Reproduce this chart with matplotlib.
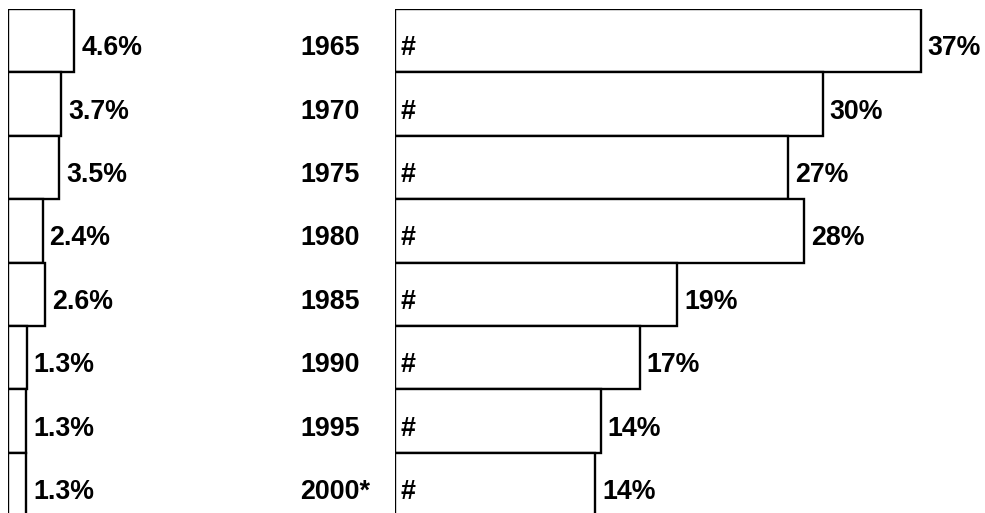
import matplotlib
matplotlib.use("Agg")
import matplotlib.pyplot as plt

years = ["1965", "1970", "1975", "1980", "1985", "1990", "1995", "2000*"]
left_vals = [4.6, 3.7, 3.55, 2.4, 2.6, 1.3, 1.28, 1.28]
left_labels = ["4.6%", "3.7%", "3.5%", "2.4%", "2.6%", "1.3%", "1.3%", "1.3%"]
right_vals = [36.5, 29.7, 27.3, 28.4, 19.6, 17.0, 14.3, 13.9]
right_labels = ["37%", "30%", "27%", "28%", "19%", "17%", "14%", "14%"]

plt.rcParams['font.family'] = ['Liberation Sans', 'DejaVu Sans']
plt.rcParams['font.weight'] = 'bold'

W, H = 985, 513
px_per_pct = 14.4
row_px = 63.4
top_px = 9

fig = plt.figure(figsize=(W / 100, H / 100), dpi=100)

# axes runs from the top of the first bar to the bottom of the last one,
# which falls just below the picture edge
ax_h = row_px * len(years) / H
ax_b = (H - top_px) / H - ax_h

left_x0, left_w = 8, 280
right_x0 = 395
right_w = W - right_x0

ax1 = fig.add_axes([left_x0 / W, ax_b, left_w / W, ax_h])
ax2 = fig.add_axes([right_x0 / W, ax_b, right_w / W, ax_h])

pos = list(range(len(years)))
fs = 19.3

for ax, vals, labels, width_px in [(ax1, left_vals, left_labels, left_w),
                                    (ax2, right_vals, right_labels, right_w)]:
    ax.barh(pos, vals, height=1.0, color="white", edgecolor="black", linewidth=1.7)
    ax.set_xlim(0, width_px / px_per_pct)
    ax.set_ylim(len(years) - 0.5, -0.5)
    ax.axis("off")
    for i, v in enumerate(vals):
        ax.annotate(labels[i], xy=(v, i), xytext=(5, -10.4), textcoords="offset points",
                    ha="left", va="baseline", fontsize=fs, fontweight="bold",
                    annotation_clip=False)

for i, y in enumerate(years):
    ax2.annotate("#", xy=(0, i), xytext=(4.3, -10.4), textcoords="offset points",
                 ha="left", va="baseline", fontsize=fs, fontweight="bold",
                 annotation_clip=False)
    ax2.annotate(y, xy=(0, i), xytext=(-68, -10.4), textcoords="offset points",
                 ha="left", va="baseline", fontsize=fs, fontweight="bold",
                 annotation_clip=False)

fig.savefig("out.png", dpi=100)
